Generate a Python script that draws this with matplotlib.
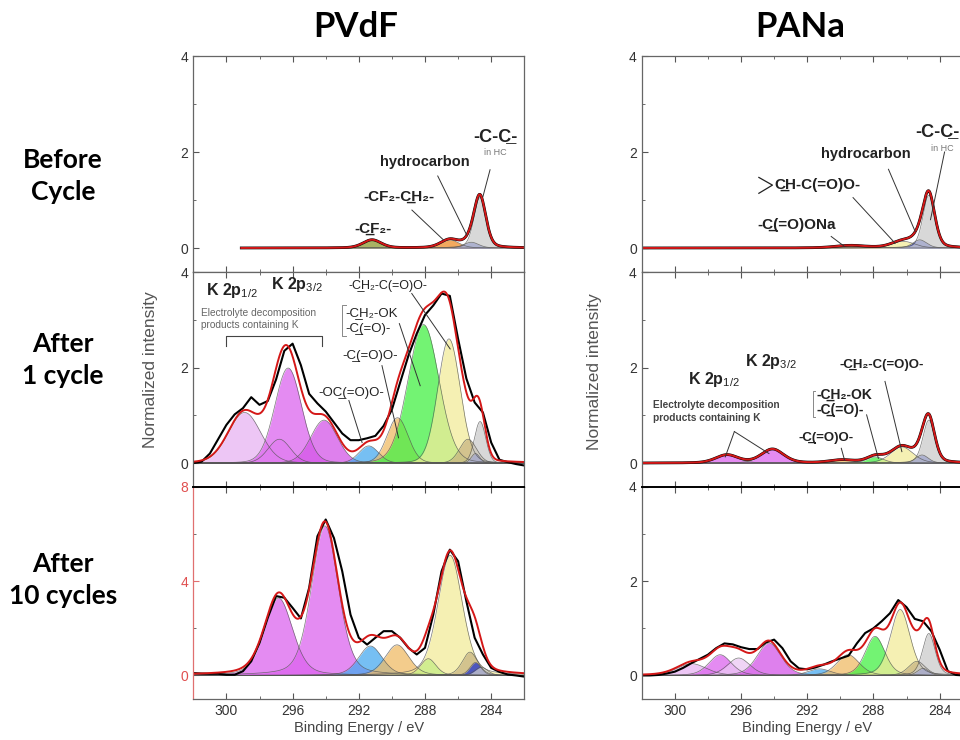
import numpy as np
import matplotlib
matplotlib.use('Agg')
import matplotlib.pyplot as plt
from matplotlib.ticker import MultipleLocator

plt.rcParams['font.family'] = ['Liberation Sans', 'DejaVu Sans']
plt.rcParams['mathtext.fontset'] = 'custom'
plt.rcParams['mathtext.rm'] = 'Liberation Sans'
plt.rcParams['mathtext.bf'] = 'Liberation Sans:bold'
plt.rcParams['mathtext.default'] = 'rm'

# component colours
LV = '#e8b4f2'; PL = '#ecc8f4'; MG = '#dc64ee'; MG2 = '#d456e8'
BL = '#48aaf0'; OR = '#f0bb66'; GR = '#44f044'; YE = '#f2ec9a'
TN = '#c8b482'; DB = '#2233cc'; GY = '#cccccc'; OL = '#8c9a30'; OR2 = '#f08c28'

# ---- fitted components: centre (eV), height, FWHM (eV) ----
pvdf0_pos = [291.2, 286.5, 285.2, 284.68]
pvdf0_h = [0.17, 0.17, 0.12, 1.05]
pvdf0_w = [1.3, 1.3, 1.05, 0.85]
pvdf0_col = [OL, OR2, DB, GY]

pana0_pos = [289.4, 286.2, 285.2, 284.65]
pana0_h = [0.05, 0.14, 0.17, 1.1]
pana0_w = [2.2, 1.6, 1.0, 0.85]
pana0_col = [OR, YE, DB, GY]

pvdf1_pos = [298.9, 296.8, 296.27, 294.1, 291.4, 289.66, 288.09, 286.55, 285.4, 284.95, 284.67]
pvdf1_h = [1.06, 0.5, 1.99, 0.9, 0.36, 0.95, 2.9, 2.6, 0.5, 0.2, 0.87]
pvdf1_w = [2.3, 1.6, 1.9, 1.9, 1.4, 1.5, 2.2, 1.6, 1.2, 0.6, 0.8]
pvdf1_col = [LV, PL, MG, MG2, BL, OR, GR, YE, TN, DB, GY]

pana1_pos = [296.85, 294.1, 289.9, 287.9, 286.28, 285.06, 284.65]
pana1_h = [0.17, 0.29, 0.06, 0.13, 0.34, 0.17, 0.9]
pana1_w = [1.6, 1.6, 1.8, 1.2, 1.6, 0.9, 0.85]
pana1_col = [MG, MG, OR, GR, YE, DB, GY]

pvdf10_pos = [296.85, 294.05, 291.3, 289.69, 287.8, 286.48, 285.28, 284.95, 284.6]
pvdf10_h = [3.29, 6.35, 1.25, 1.3, 0.71, 5.1, 0.99, 0.55, 0.35]
pvdf10_w = [2.0, 1.9, 1.7, 1.7, 1.1, 1.75, 1.1, 0.8, 0.9]
pvdf10_col = [MG, MG, BL, OR, GR, YE, TN, DB, GY]

pana10_pos = [298.98, 297.26, 296.14, 294.31, 291.26, 289.53, 287.9, 286.38, 285.37, 285.0, 284.65]
pana10_h = [0.25, 0.44, 0.37, 0.69, 0.14, 0.44, 0.83, 1.4, 0.3, 0.15, 0.89]
pana10_w = [2.1, 1.6, 1.6, 1.7, 1.6, 1.6, 1.4, 1.4, 1.2, 0.8, 0.9]
pana10_col = [LV, MG, PL, MG2, BL, OR, GR, YE, TN, DB, GY]

# ---- measured spectra (read every 0.5 eV, 302 -> 282 eV) ----
e_meas = np.arange(302.0, 281.9, -0.5)
pvdf1_meas = [0.0, 0.03, 0.2, 0.5, 0.8, 1.02, 1.15, 1.38, 1.22, 1.3, 1.75, 2.35, 2.5, 2.05,
              1.45, 1.25, 1.08, 0.85, 0.62, 0.48, 0.48, 0.52, 0.57, 0.78, 1.12, 1.69, 2.25,
              2.71, 3.1, 3.3, 3.55, 3.5, 2.6, 1.77, 1.27, 1.06, 0.43, 0.07, 0.02, -0.02, -0.05]
pvdf10_meas = [0.1, 0.08, 0.07, 0.07, 0.03, 0.03, 0.18, 0.6, 1.38, 2.45, 3.37, 3.3, 2.87, 2.42,
               3.72, 5.91, 6.62, 5.83, 4.42, 2.58, 1.6, 1.31, 1.6, 1.88, 1.88, 1.6, 1.17,
               0.89, 1.17, 2.58, 4.42, 5.34, 4.85, 3.15, 1.6, 0.89, 0.32, 0.15, 0.04, 0.0, -0.05]
pana10_meas = [0.0, 0.0, 0.01, 0.04, 0.08, 0.16, 0.26, 0.35, 0.44, 0.58, 0.68, 0.66, 0.6, 0.56,
               0.56, 0.7, 0.76, 0.58, 0.3, 0.15, 0.13, 0.17, 0.23, 0.3, 0.36, 0.42, 0.68,
               0.9, 1.0, 1.15, 1.32, 1.6, 1.45, 1.2, 1.15, 0.94, 0.55, 0.09, 0.01, 0.0, 0.0]


def peak(e, c, h, w, eta):
    # pseudo-voigt line shape
    g = np.exp(-4 * np.log(2) * (e - c) ** 2 / w ** 2)
    l = 1 / (1 + 4 * (e - c) ** 2 / w ** 2)
    return h * ((1 - eta) * g + eta * l)


def draw_panel(ax, pos, hs, ws, cols, meas=None, start=302.0, eta=0.3):
    e = np.linspace(start, 282.0, 1200)
    total = np.zeros_like(e)
    for c, h, w, col in zip(pos, hs, ws, cols):
        y = peak(e, c, h, w, eta)
        total += y
        ax.fill_between(e, 0, y, color=col, alpha=0.75, lw=0)
        ax.plot(e, y, color='#555555', lw=0.5, alpha=0.8)
    if meas is None:
        ax.plot(e, total, color='black', lw=2.0)
    else:
        ax.plot(e_meas, meas, color='black', lw=1.5)
    ax.plot(e, total, color='#d41818', lw=1.4)


def leader(ax, x0, y0, x1, y1):
    ax.plot([x0, x1], [y0, y1], color='#333333', lw=0.7)


fig = plt.figure(figsize=(9.6, 7.4), dpi=100)

W = 331 / 960
cols_x = [193.3 / 960, 641.7 / 960]
rows = [(272, 216), (487, 215), (699, 212)]
axes = []
for (bot, hgt) in rows:
    r = []
    for x0 in cols_x:
        ax = fig.add_axes([x0, 1 - bot / 740, W, hgt / 740])
        r.append(ax)
    axes.append(r)

draw_panel(axes[0][0], pvdf0_pos, pvdf0_h, pvdf0_w, pvdf0_col, start=299.1)
draw_panel(axes[0][1], pana0_pos, pana0_h, pana0_w, pana0_col)
draw_panel(axes[1][0], pvdf1_pos, pvdf1_h, pvdf1_w, pvdf1_col, meas=pvdf1_meas, eta=0.1)
draw_panel(axes[1][1], pana1_pos, pana1_h, pana1_w, pana1_col)
draw_panel(axes[2][0], pvdf10_pos, pvdf10_h, pvdf10_w, pvdf10_col, meas=pvdf10_meas)
draw_panel(axes[2][1], pana10_pos, pana10_h, pana10_w, pana10_col, meas=pana10_meas)

for i, r in enumerate(axes):
    for j, ax in enumerate(r):
        ax.set_xlim(302, 282)
        big = (i == 2 and j == 0)
        ax.set_ylim((-1, 8) if big else (-0.5, 4))
        ax.xaxis.set_major_locator(MultipleLocator(4))
        ax.xaxis.set_minor_locator(MultipleLocator(2))
        ax.yaxis.set_major_locator(MultipleLocator(4 if big else 2))
        ax.yaxis.set_minor_locator(MultipleLocator(2 if big else 1))
        ax.tick_params(which='both', direction='in', top=True, right=False,
                       labelsize=10, labelcolor='#333333', color='#555555')
        ax.tick_params(which='major', length=4)
        ax.tick_params(which='minor', length=2.5)
        for s in ax.spines.values():
            s.set_color('#666666')
            s.set_linewidth(0.9)
        if i < 2:
            ax.tick_params(labelbottom=False)
        else:
            ax.spines['top'].set_color('black')
            ax.spines['top'].set_linewidth(1.4)
            ax.set_xlabel('Binding Energy / eV', fontsize=10.5, color='#444444', labelpad=2)
        if big:
            ax.spines['left'].set_color('#e07070')
            ax.tick_params(axis='y', labelcolor='#e05050', color='#e07070')

# ---- annotations: PVdF before ----
ax = axes[0][0]
ax.text(283.72, 2.32, '-C-C\u0332-', fontsize=13, weight='bold', ha='center', va='center', color='#222222')
ax.text(283.77, 1.98, 'in HC', fontsize=6.5, ha='center', va='center', color='#777777')
leader(ax, 284.07, 1.63, 284.5, 1.07)
ax.text(288.03, 1.8, 'hydrocarbon', fontsize=10.5, weight='bold', ha='center', va='center', color='#222222')
leader(ax, 287.23, 1.5, 285.48, 0.27)
ax.text(289.6, 1.07, '-CF\u2082-C\u0332H\u2082-', fontsize=11, weight='bold', ha='center', va='center', color='#222222')
leader(ax, 288.79, 0.79, 286.89, 0.17)
ax.text(291.16, 0.41, '-C\u0332F\u2082-', fontsize=11, weight='bold', ha='center', va='center', color='#222222')

# ---- annotations: PANa before ----
ax = axes[0][1]
ax.text(285.45, 2.43, '-C-C\u0332-', fontsize=13, weight='bold', ha='left', va='center', color='#222222')
ax.text(284.5, 2.08, 'in HC', fontsize=6.5, ha='left', va='center', color='#777777')
leader(ax, 283.7, 2.0, 284.55, 0.59)
ax.text(288.48, 1.96, 'hydrocarbon', fontsize=10.5, weight='bold', ha='center', va='center', color='#222222')
leader(ax, 287.09, 1.64, 285.47, 0.34)
ax.plot([294.92, 294.1, 294.92], [1.47, 1.31, 1.14], color='#222222', lw=0.9)
ax.text(294.0, 1.31, 'C\u0332H-C(=O)O-', fontsize=11, weight='bold', ha='left', va='center', color='#222222')
leader(ax, 289.23, 1.05, 286.69, 0.1)
ax.text(292.62, 0.48, '-C\u0332(=O)ONa', fontsize=11, weight='bold', ha='center', va='center', color='#222222')
leader(ax, 290.55, 0.24, 289.74, 0.03)

# ---- annotations: PVdF 1 cycle ----
ax = axes[1][0]
ax.text(301.24, 3.62, 'K 2p$_{1/2}$', fontsize=11.5, weight='bold', ha='left', va='center', color='#222222')
ax.text(297.33, 3.73, 'K 2p$_{3/2}$', fontsize=11.5, weight='bold', ha='left', va='center', color='#222222')
ax.text(301.54, 3.02, 'Electrolyte decomposition\nproducts containing K', fontsize=7.3,
        ha='left', va='center', color='#666666', linespacing=1.3)
ax.plot([300, 300, 294.2, 294.2], [2.46, 2.67, 2.67, 2.46], color='#444444', lw=0.8)
ax.text(292.6, 3.71, '-C\u0332H\u2082-C(=O)O-', fontsize=9, ha='left', va='center', color='#222222')
leader(ax, 288.8, 3.55, 286.48, 2.39)
ax.plot([292.75, 293.0, 293.0, 292.75], [3.3, 3.3, 2.67, 2.67], color='#888888', lw=0.7)
ax.text(292.8, 3.14, '-C\u0332H\u2082-OK', fontsize=9.5, ha='left', va='center', color='#222222')
ax.text(292.8, 2.81, '-C\u0332(=O)-', fontsize=9.5, ha='left', va='center', color='#222222')
leader(ax, 289.55, 2.92, 288.29, 1.62)
ax.text(293.02, 2.25, '-C\u0332(=O)O-', fontsize=9.5, ha='left', va='center', color='#222222')
leader(ax, 290.6, 2.04, 289.6, 0.53)
ax.text(294.42, 1.46, '-OC\u0332(=O)O-', fontsize=9.5, ha='left', va='center', color='#222222')
leader(ax, 292.6, 1.31, 291.8, 0.43)

# ---- annotations: PANa 1 cycle ----
ax = axes[1][1]
ax.text(295.73, 2.13, 'K 2p$_{3/2}$', fontsize=11.5, weight='bold', ha='left', va='center', color='#222222')
ax.text(299.19, 1.75, 'K 2p$_{1/2}$', fontsize=11.5, weight='bold', ha='left', va='center', color='#222222')
ax.text(301.32, 1.08, 'Electrolyte decomposition\nproducts containing K', fontsize=7.3, weight='bold',
        ha='left', va='center', color='#444444', linespacing=1.3)
leader(ax, 296.4, 0.66, 296.95, 0.13)
leader(ax, 296.4, 0.66, 294.31, 0.2)
ax.text(290.04, 2.06, '-C\u0332H\u2082-C(=O)O-', fontsize=9.5, weight='bold', ha='left', va='center', color='#222222')
leader(ax, 287.3, 1.71, 286.28, 0.24)
ax.plot([291.5, 291.66, 291.66, 291.5], [1.5, 1.5, 0.97, 0.97], color='#888888', lw=0.7)
ax.text(291.46, 1.43, '-C\u0332H\u2082-OK', fontsize=10, weight='bold', ha='left', va='center', color='#222222')
ax.text(291.46, 1.12, '-C\u0332(=O)-', fontsize=10, weight='bold', ha='left', va='center', color='#222222')
leader(ax, 288.41, 1.01, 287.7, 0.1)
ax.text(292.54, 0.52, '-C\u0332(=O)O-', fontsize=9.5, weight='bold', ha='left', va='center', color='#222222')
leader(ax, 289.94, 0.31, 289.74, 0.06)

# ---- titles, row labels, y labels ----
fig.text(356 / 960, 1 - 27 / 740, 'PVdF', ha='center', va='center', fontsize=25,
         weight='bold', family=['Lato', 'DejaVu Sans'])
fig.text(800 / 960, 1 - 27 / 740, 'PANa', ha='center', va='center', fontsize=25,
         weight='bold', family=['Lato', 'DejaVu Sans'])
for y, s in [(176, 'Before\nCycle'), (360, 'After\n1 cycle'), (580, 'After\n10 cycles')]:
    fig.text(63 / 960, 1 - y / 740, s, ha='center', va='center', fontsize=19,
             weight='bold', linespacing=1.45, family=['Lato', 'DejaVu Sans'])
fig.text(150 / 960, 1 - 370 / 740, 'Normalized intensity', rotation=90, ha='center',
         va='center', fontsize=12.5, color='#555555')
fig.text(594 / 960, 1 - 372 / 740, 'Normalized intensity', rotation=90, ha='center',
         va='center', fontsize=12.5, color='#555555')

fig.savefig('out.png', dpi=100)
